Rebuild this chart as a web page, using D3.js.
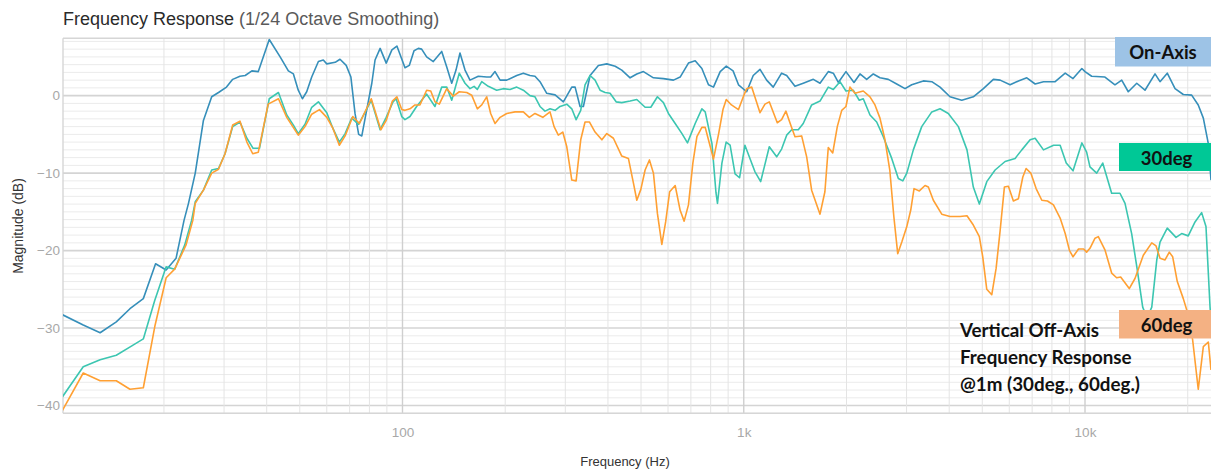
<!DOCTYPE html>
<html><head><meta charset="utf-8">
<script src="https://cdn.jsdelivr.net/npm/d3@7"></script>
<style>body{margin:0;background:#fff}svg{display:block}</style>
</head><body><svg id="c" width="1211" height="470"></svg>
<script>
// ---- data: [frequency Hz, magnitude dB] ----
const onAxis = [[10,-28.2],[11.6,-29.6],[13.0,-30.6],[14.5,-29.2],[15.9,-27.5],[17.4,-26.2],[18.9,-21.7],[20.3,-22.5],[21.7,-21.0],[22.9,-16.1],[23.6,-13.9],[24.7,-10.0],[26.1,-3.2],[27.6,-0.15],[28.9,0.4],[30.5,1.1],[31.8,2.1],[33.4,2.5],[34.6,2.6],[36.2,3.2],[37.8,3.1],[40.7,7.25],[43.8,5.0],[46.3,3.2],[47.9,2.8],[49.5,0.7],[50.9,-0.4],[52.4,0.5],[54.2,2.4],[56.7,4.4],[58.6,4.6],[60.0,4.1],[63.5,4.3],[65.6,4.7],[68.4,3.9],[70.6,2.4],[72.6,-2.3],[74.4,-5.0],[76.0,-5.2],[78.2,-2.3],[81.3,1.6],[83.1,4.6],[86.0,6.1],[89.6,4.2],[93.1,5.9],[96.3,6.4],[101.7,3.6],[104.7,3.9],[108.1,5.8],[111.3,6.1],[113.8,6.0],[117.7,5.0],[123.1,4.4],[130.3,5.7],[134.8,3.7],[139.4,1.6],[143.5,3.3],[147.4,5.5],[152.5,3.3],[157.7,2.0],[166.8,2.5],[176.5,2.4],[181.3,2.4],[186.7,3.1],[193.2,2.0],[202.1,2.0],[216.2,2.6],[226.0,2.9],[236.4,2.6],[244.5,2.5],[252.9,1.8],[264.7,0.3],[280.0,0.1],[296.1,-0.8],[313.4,1.1],[320.5,1.1],[331.4,-1.4],[338.9,-1.4],[354.6,2.6],[375.0,3.9],[396.9,4.1],[420.0,3.8],[439.1,3.3],[464.5,2.3],[486.0,2.8],[508.2,3.1],[543.7,2.3],[581.7,2.2],[622.3,2.0],[651.1,2.4],[688.6,4.2],[720.6,4.5],[753.8,3.5],[788.2,1.4],[815.3,1.1],[853.0,3.1],[888.8,3.8],[930.6,3.2],[965.2,1.4],[1020,0.5],[1066,2.6],[1116,3.4],[1167,2.0],[1220,1.1],[1291,2.9],[1336,2.6],[1413,1.2],[1494,1.6],[1599,2.1],[1673,1.6],[1769,3.1],[1830,2.9],[1893,1.7],[1993,3.1],[2104,1.7],[2191,2.8],[2292,2.1],[2397,2.8],[2507,2.3],[2652,2.1],[2807,1.5],[2969,0.9],[3106,1.4],[3359,1.9],[3557,1.8],[3760,1.1],[4022,-0.15],[4354,-0.6],[4707,-0.15],[5037,0.9],[5389,2.1],[5641,2.0],[6032,1.4],[6381,1.9],[6752,2.3],[7143,1.5],[7557,1.8],[8177,1.8],[8749,2.9],[9224,2.2],[9790,3.5],[10000,3.1],[10460,2.5],[11440,2.4],[12240,1.4],[12810,2.0],[13390,0.5],[14180,1.6],[14990,0.7],[16040,2.8],[16590,1.8],[17420,2.9],[18360,0.9],[19410,0.15],[20540,0.06],[21470,-1.2],[22220,-2.9],[22980,-6.2],[23400,-10.9]];

const deg30 = [[10,-39.1],[11.6,-35.0],[13.0,-34.1],[14.5,-33.5],[16.1,-32.3],[17.4,-31.4],[18.8,-26.4],[20.3,-22.1],[21.5,-22.4],[23.0,-19.3],[24.1,-16.1],[24.7,-13.7],[26.1,-12.2],[27.6,-9.6],[28.9,-9.4],[30.2,-7.5],[31.8,-4.0],[33.4,-3.4],[35.0,-5.5],[36.5,-6.8],[38.1,-6.8],[40.7,-0.4],[43.3,0.4],[45.8,-2.5],[47.9,-3.8],[49.5,-4.9],[51.8,-3.7],[54.2,-1.5],[56.7,-0.8],[60.0,-2.2],[62.5,-4.2],[65.3,-6.0],[67.9,-4.9],[71.0,-2.9],[74.4,-3.7],[81.0,-0.6],[86.0,-4.4],[89.6,-2.8],[93.8,-0.8],[95.8,-0.4],[99.5,-2.7],[101.7,-3.1],[105.2,-2.7],[110.0,-1.4],[117.7,0.2],[124.5,-1.4],[130.3,1.1],[134.8,1.1],[139.4,-0.6],[146.7,2.9],[152.5,1.6],[157.7,0.9],[162.1,1.2],[165.7,0.8],[170.7,1.8],[178.4,1.2],[188.8,0.7],[197.4,0.9],[206.6,0.8],[216.2,1.1],[226.0,0.7],[236.4,0.0],[244.5,-0.15],[252.9,-1.4],[261.6,-2.0],[270.6,-1.7],[280.0,-1.9],[289.6,-1.4],[303.0,-1.1],[313.4,-1.7],[322.7,-3.1],[332.9,-1.9],[342.7,1.4],[354.6,2.6],[366.7,2.0],[379.3,0.7],[392.4,0.4],[405.8,0.3],[422.7,-0.8],[439.1,-0.9],[464.5,-0.7],[486.0,-0.5],[514.0,-1.5],[534.2,-1.5],[558.5,-0.15],[581.7,-0.9],[601.6,-2.3],[629.6,-3.6],[659.1,-4.9],[684.1,-6.1],[720.6,-3.6],[753.8,-1.7],[771.0,-2.1],[807.0,-6.2],[829,-12.5],[837.6,-13.9],[863,-8.7],[888,-6.0],[912,-6.4],[943,-10.1],[972,-10.6],[1008,-6.4],[1078,-9.8],[1121,-11.1],[1188,-6.6],[1249,-7.9],[1291,-6.9],[1336,-5.1],[1382,-4.4],[1445,-4.4],[1494,-3.6],[1581,-1.2],[1673,-0.7],[1769,1.1],[1830,0.8],[1914,1.8],[1993,0.6],[2093,0.7],[2180,-0.6],[2240,-0.4],[2344,-2.5],[2452,-3.4],[2564,-5.3],[2714,-8.1],[2838,-10.7],[2925,-11.0],[3005,-10.0],[3140,-7.0],[3323,-4.0],[3557,-2.1],[3760,-1.7],[3976,-2.3],[4255,-4.0],[4510,-7.0],[4707,-11.8],[4902,-14.0],[5154,-11.1],[5452,-9.6],[5832,-8.5],[6240,-8.1],[6529,-7.0],[6905,-5.7],[7143,-5.5],[7557,-7.0],[8090,-6.4],[8455,-6.4],[8810,-8.7],[9224,-9.7],[9790,-6.1],[10110,-7.3],[10340,-9.2],[10820,-10.0],[11270,-8.7],[11970,-12.6],[12660,-12.6],[13100,-13.9],[13700,-17.8],[14230,-22.5],[14760,-27.3],[15200,-28.7],[15690,-27.3],[16230,-21.2],[16590,-18.9],[17420,-17.1],[18480,-18.3],[19200,-17.8],[20070,-18.1],[21010,-16.3],[21970,-15.1],[22620,-16.9],[23250,-27.3],[23400,-29.0]];

const deg60 = [[10,-40.9],[11.6,-35.8],[13.0,-36.8],[14.5,-36.8],[15.9,-37.9],[17.4,-37.7],[18.8,-29.8],[20.3,-23.5],[21.5,-22.4],[23.2,-19.3],[24.3,-16.1],[24.7,-13.9],[26.1,-12.2],[27.6,-10.0],[28.9,-9.5],[30.2,-7.5],[31.8,-3.8],[33.4,-3.3],[35.0,-6.0],[36.4,-7.5],[37.8,-7.3],[40.4,-1.1],[43.3,-0.4],[45.8,-2.8],[49.5,-5.1],[51.8,-4.0],[54.2,-2.4],[57.1,-1.8],[60.0,-2.8],[62.5,-4.2],[65.3,-6.4],[67.9,-5.2],[71.5,-2.7],[74.8,-3.6],[81.0,-0.4],[86.4,-4.4],[89.6,-3.2],[93.4,-0.7],[96.3,-0.15],[99.5,-1.8],[101.7,-1.9],[105.2,-1.7],[108.8,-1.2],[112.5,-1.2],[117.7,0.7],[121.0,0.6],[124.5,-0.8],[128.2,-1.1],[134.8,0.9],[140.9,-0.06],[146.7,0.5],[154.3,0.4],[159.5,0.06],[165.7,-1.7],[170.7,-1.2],[176.5,-0.15],[181.3,-2.3],[186.7,-3.6],[193.2,-2.8],[202.1,-2.3],[213.7,-2.1],[226.0,-2.1],[235.3,-2.8],[244.5,-2.3],[257.7,-2.8],[270.6,-2.1],[278.1,-4.0],[286.2,-5.1],[294.9,-4.7],[303.0,-6.6],[313.4,-10.9],[322.7,-11.0],[332.9,-5.7],[342.7,-3.4],[352.9,-3.4],[366.7,-4.7],[383.9,-5.7],[396.9,-4.9],[415.0,-5.5],[439.1,-7.8],[459.2,-8.1],[475.1,-11.3],[486.0,-13.5],[499.4,-12.1],[514.0,-9.6],[529.2,-8.3],[543.7,-10.0],[558.5,-15.2],[575.4,-19.2],[590.4,-16.3],[606.6,-12.4],[629.6,-11.6],[651.1,-14.8],[668.9,-16.2],[688.6,-14.1],[709.4,-8.7],[729.0,-5.3],[753.8,-4.1],[771.0,-4.1],[793.7,-6.2],[815.3,-8.2],[844.3,-4.9],[869.2,-1.8],[888.8,-0.5],[920.4,-1.2],[965.2,-1.8],[997,-0.15],[1020,0.9],[1055,1.1],[1116,-2.2],[1154,-1.1],[1188,-0.8],[1254,-3.5],[1291,-3.1],[1329,-2.0],[1373,-3.8],[1413,-5.3],[1478,-5.2],[1529,-7.9],[1581,-12.2],[1673,-15.3],[1729,-12.4],[1769,-6.7],[1823,-7.4],[1880,-4.0],[1937,-1.9],[1993,-1.4],[2047,1.1],[2118,0.3],[2240,0.6],[2344,-0.15],[2424,-1.2],[2507,-2.9],[2593,-5.7],[2679,-9.6],[2753,-15.6],[2826,-20.4],[2905,-18.9],[3005,-16.9],[3085,-14.8],[3155,-12.0],[3270,-12.3],[3398,-11.6],[3475,-11.8],[3594,-13.5],[3804,-15.3],[4022,-15.6],[4304,-15.6],[4510,-15.5],[4707,-16.7],[4902,-18.2],[5016,-20.8],[5154,-25.0],[5330,-25.7],[5489,-22.3],[5641,-17.4],[5805,-11.8],[5964,-11.7],[6168,-13.6],[6381,-13.3],[6573,-10.5],[6721,-9.4],[6937,-10.0],[7191,-12.0],[7472,-13.5],[7762,-13.6],[8082,-14.1],[8455,-15.8],[8749,-17.8],[9008,-20.0],[9224,-20.8],[9570,-19.8],[9910,-19.8],[10110,-20.2],[10340,-19.7],[10700,-18.4],[10940,-18.2],[11440,-19.9],[11970,-22.9],[12380,-23.5],[12720,-23.4],[13480,-24.9],[14010,-23.6],[14820,-20.6],[15690,-19.0],[16150,-19.4],[16590,-21.0],[17160,-21.2],[17660,-20.2],[18070,-20.8],[18640,-24.0],[19410,-26.2],[19940,-27.9],[20670,-31.5],[21470,-37.9],[22220,-32.4],[22980,-31.8],[23400,-35.4]];

const seriesNames = ["On-Axis", "30deg", "60deg"];
const yTickValues = [0, -10, -20, -30, -40];
const xTickValues = [100, 1000, 10000];
const xTickLabels = ["100", "1k", "10k"];
const annotationLines = ["Vertical Off-Axis", "Frequency Response", "@1m (30deg., 60deg.)"];

// ---- layout ----
const L = 63, R = 1211, T = 38.3, B = 413.3;
const svg = d3.select("#c");
const x = d3.scaleLog().domain([10.12, 23400]).range([L, R]);
const y = d3.scaleLinear().domain([-41, 7.4]).range([B, T]);

const grid = svg.append("g");
grid.selectAll("line.hm").data(d3.range(-41, 8, 1)).join("line")
  .attr("x1", L).attr("x2", R).attr("y1", d => y(d)).attr("y2", d => y(d))
  .attr("stroke", d => d % 10 === 0 ? "#d4d4d4" : "#ebebeb")
  .attr("stroke-width", d => d % 10 === 0 ? 1.6 : 1);
const vt = x.ticks().filter(v => v > 10.12 && v < 23400);
grid.selectAll("line.v").data(vt).join("line")
  .attr("x1", d => x(d)).attr("x2", d => x(d)).attr("y1", T).attr("y2", B)
  .attr("stroke", d => xTickValues.includes(d) ? "#cfcfcf" : "#e4e4e4")
  .attr("stroke-width", d => xTickValues.includes(d) ? 1.4 : 1);
grid.append("line").attr("x1", L).attr("x2", R).attr("y1", T).attr("y2", T).attr("stroke", "#d6d6d6").attr("stroke-width", 1.4);
grid.append("line").attr("x1", L).attr("x2", R).attr("y1", B).attr("y2", B).attr("stroke", "#d6d6d6").attr("stroke-width", 1.4);
grid.append("line").attr("x1", L).attr("x2", L).attr("y1", T).attr("y2", B).attr("stroke", "#d6d6d6").attr("stroke-width", 1.4);

const yAxis = d3.axisLeft(y).tickValues(yTickValues).tickSize(0).tickPadding(3);
const ya = svg.append("g").attr("transform", `translate(${L},0)`).call(yAxis);
ya.select(".domain").remove();
ya.selectAll("text").attr("fill", "#a8a8a8").attr("font-size", 13.5).attr("font-family", "Liberation Sans, Arial, sans-serif");

const xAxis = d3.axisBottom(x).tickValues(xTickValues).tickFormat((d, i) => xTickLabels[i]).tickSize(0).tickPadding(14);
const xa = svg.append("g").attr("transform", `translate(0,${B})`).call(xAxis);
xa.select(".domain").remove();
xa.selectAll("text").attr("fill", "#a8a8a8").attr("font-size", 13.5).attr("font-family", "Liberation Sans, Arial, sans-serif");

svg.append("text").attr("x", 625).attr("y", 466).attr("text-anchor", "middle")
  .attr("font-family", "Liberation Sans, Arial, sans-serif").attr("font-size", 13).attr("fill", "#333")
  .text("Frequency (Hz)");
svg.append("text").attr("transform", "translate(23,226) rotate(-90)").attr("text-anchor", "middle")
  .attr("font-family", "Liberation Sans, Arial, sans-serif").attr("font-size", 14).attr("fill", "#333")
  .text("Magnitude (dB)");

const title = svg.append("text").attr("x", 63).attr("y", 24.5)
  .attr("font-family", "Liberation Sans, Arial, sans-serif").attr("font-size", 18);
title.append("tspan").attr("fill", "#2a2a2a").text("Frequency Response ");
title.append("tspan").attr("fill", "#5a5a5a").text("(1/24 Octave Smoothing)");

svg.append("clipPath").attr("id", "clip").append("rect").attr("x", L).attr("y", T).attr("width", R - L + 5).attr("height", B - T);
const line = d3.line().x(d => x(d[0])).y(d => y(d[1]));
const colors = ["#368fba", "#3cc6b1", "#ffa033"];
const cg = svg.append("g").attr("clip-path", "url(#clip)");
[onAxis, deg30, deg60].forEach((s, i) => {
  cg.append("path").datum(s).attr("d", line).attr("fill", "none")
    .attr("stroke", colors[i]).attr("stroke-width", 1.6).attr("stroke-linejoin", "round");
});

const boxes = [
  {x: 1115, y: 37, w: 96, h: 29.5, fill: "#9dc3e6", ty: 58.5},
  {x: 1119, y: 143, w: 92, h: 28, fill: "#00c896", ty: 164.5},
  {x: 1119, y: 310, w: 92, h: 28.5, fill: "#f4b183", ty: 331.5}
];
boxes.forEach((b, i) => {
  svg.append("rect").attr("x", b.x).attr("y", b.y).attr("width", b.w).attr("height", b.h).attr("fill", b.fill);
  svg.append("text").attr("x", i === 0 ? 1163 : 1166.5).attr("y", b.ty).attr("text-anchor", "middle")
    .attr("font-family", "Lato, Open Sans, sans-serif").attr("font-weight", "bold").attr("font-size", 18.5).attr("fill", "#111")
    .text(seriesNames[i]);
});

svg.append("g").selectAll("text").data(annotationLines).join("text")
  .attr("x", 960).attr("y", (d, i) => 337 + i * 27)
  .attr("font-family", "Lato, Open Sans, sans-serif").attr("font-weight", "bold").attr("font-size", 18.8).attr("fill", "#111")
  .text(d => d);
</script></body></html>
